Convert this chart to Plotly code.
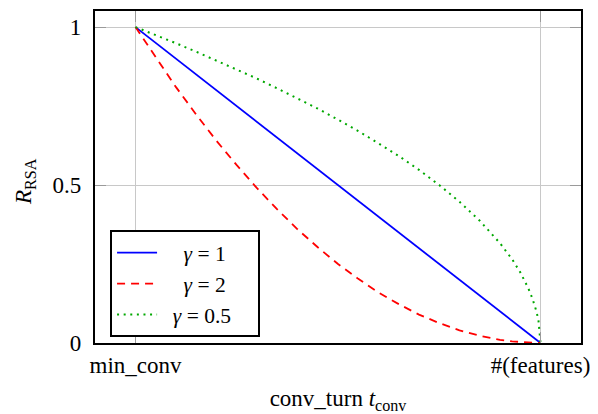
import plotly.graph_objects as go

# normalized conv_turn position (0 = min_conv, 1 = #(features))
t_pos = [0, 0.05, 0.1, 0.15, 0.2, 0.25, 0.3, 0.35, 0.4, 0.45, 0.5, 0.55, 0.6,
         0.65, 0.7, 0.75, 0.8, 0.85, 0.9, 0.93, 0.95, 0.97, 0.98, 0.99, 0.995, 1.0]
r_gamma1 = [1.0, 0.95, 0.9, 0.85, 0.8, 0.75, 0.7, 0.65, 0.6, 0.55, 0.5, 0.45, 0.4,
            0.35, 0.3, 0.25, 0.2, 0.15, 0.1, 0.07, 0.05, 0.03, 0.02, 0.01, 0.005, 0.0]
r_gamma2 = [1.0, 0.903, 0.81, 0.723, 0.64, 0.563, 0.49, 0.423, 0.36, 0.303, 0.25, 0.203, 0.16,
            0.123, 0.09, 0.063, 0.04, 0.023, 0.01, 0.005, 0.003, 0.001, 0.0004, 0.0001, 0.0, 0.0]
r_gamma05 = [1.0, 0.975, 0.949, 0.922, 0.894, 0.866, 0.837, 0.806, 0.775, 0.742, 0.707, 0.671, 0.632,
             0.592, 0.548, 0.5, 0.447, 0.387, 0.316, 0.265, 0.224, 0.173, 0.141, 0.1, 0.071, 0.0]

x_tickvals = [0, 1]
x_ticktext = ["min_conv", "#(features)"]
y_tickvals = [0, 0.5, 1]
y_ticktext = ["0", "0.5", "1"]

gamma_labels = ["1", "2", "0.5"]

SERIF = "Liberation Serif"
FS = 23

# invisible padding so the legend texts sit centred in a wider box
PAD = '<span style="color:rgba(0,0,0,0)">{}</span>'
series_names = [
    PAD.format("0&nbsp;&nbsp;") + "<i>γ</i> = " + gamma_labels[0] + PAD.format("0&nbsp;0"),
    PAD.format("0&nbsp;&nbsp;") + "<i>γ</i> = " + gamma_labels[1] + PAD.format("0&nbsp;0"),
    PAD.format("0") + "<i>γ</i> = " + gamma_labels[2] + PAD.format("00"),
]

fig = go.Figure()
fig.add_trace(go.Scatter(x=t_pos, y=r_gamma1, mode="lines", name=series_names[0],
                         line=dict(color="#0000ff", width=1.8)))
fig.add_trace(go.Scatter(x=t_pos, y=r_gamma2, mode="lines", name=series_names[1],
                         line=dict(color="#ff0000", width=1.8, dash="8px,6px")))
fig.add_trace(go.Scatter(x=t_pos, y=r_gamma05, mode="lines", name=series_names[2],
                         line=dict(color="#00a800", width=2, dash="2px,4.6px")))

# page body has an 8px margin; figure sized/offset to compensate
fig.update_layout(
    width=590, height=406,
    margin=dict(l=87, r=17, t=1, b=71),
    paper_bgcolor="white", plot_bgcolor="white",
    font=dict(family=SERIF, size=FS, color="black"),
    showlegend=True,
    legend=dict(x=0.031, y=0.34, xanchor="left", yanchor="top",
                bordercolor="black", borderwidth=2, bgcolor="white",
                font=dict(family=SERIF, size=21.5),
                itemwidth=40, tracegroupgap=0),
    xaxis=dict(range=[-0.1, 1.1], tickvals=x_tickvals, ticktext=x_ticktext,
               showgrid=True, gridcolor="#c8c8c8", gridwidth=1,
               showline=True, linecolor="black", linewidth=2.4, mirror="ticks",
               ticks="inside", ticklen=11, tickcolor="#9a9a9a", tickwidth=1,
               zeroline=False,
               tickfont=dict(family=SERIF, size=FS),
               title=dict(text="conv_turn <i>t</i><sub>conv</sub>",
                          font=dict(family=SERIF, size=FS), standoff=18)),
    yaxis=dict(range=[0, 1.051], tickvals=y_tickvals, ticktext=y_ticktext,
               showgrid=True, gridcolor="#c8c8c8", gridwidth=1,
               showline=True, linecolor="black", linewidth=2.4, mirror="ticks",
               ticks="inside", ticklen=11, tickcolor="#9a9a9a", tickwidth=1,
               ticklabelstandoff=7,
               zeroline=False,
               tickfont=dict(family=SERIF, size=FS)),
    annotations=[dict(text="<i>R</i><sub>RSA</sub>", xref="paper", yref="paper",
                      x=0, y=0.5, xanchor="center", yanchor="middle",
                      xshift=-70, yshift=-5, textangle=-90, showarrow=False,
                      font=dict(family=SERIF, size=FS))],
)

fig.write_html("out.html")
